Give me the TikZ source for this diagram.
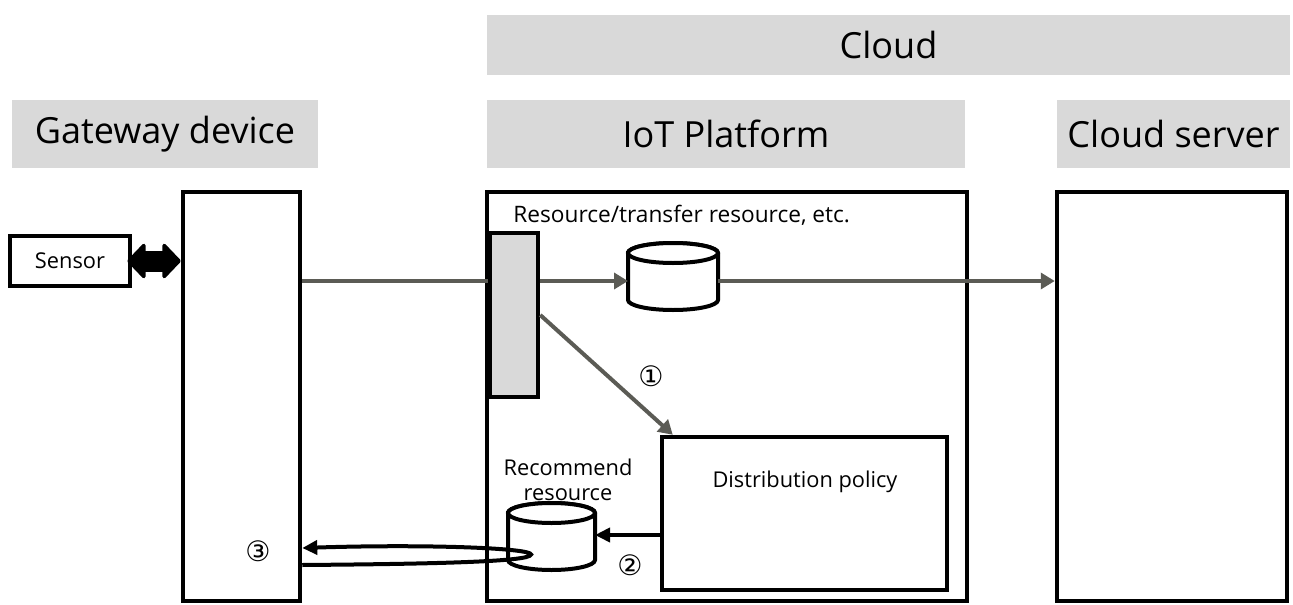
\documentclass[tikz,border=0pt]{standalone}
\usepackage{fontspec}
\setmainfont{Open Sans}
\newfontfamily\circfont{DejaVu Sans}
\usetikzlibrary{arrows.meta}
\usetikzlibrary{calc}
\definecolor{headgray}{HTML}{D9D9D9}
\definecolor{flowgray}{HTML}{5B5B55}
\tikzset{
    header/.style={fill=headgray, inner sep=0pt, font=\fontsize{20.5}{24}\selectfont},
    box/.style={draw=black, line width=0.09cm, fill=white, inner sep=0pt},
    store/.style={inner sep=0pt, outer sep=0pt},
    storeline/.style={draw=black, line width=0.08cm, fill=white},
    note/.style={inner sep=0pt, font=\fontsize{12.4}{14.2}\selectfont},
    stepnum/.style={inner sep=0pt, font=\circfont\fontsize{16}{16}\selectfont},
    flow/.style={draw=flowgray, line width=0.08cm},
    flowarrow/.style={flow, -{Triangle[length=0.28cm,width=0.32cm]}},
    push/.style={draw=black, line width=0.08cm, -{Triangle[length=0.3cm,width=0.28cm]}},
    fatarrow/.style={draw=black, line width=0.42cm,
        {Triangle[round,line width=2pt,length=0.38cm,width=0.78cm]}-{Triangle[round,line width=2pt,length=0.38cm,width=0.78cm]}},
}
% database drum round a named node: #1 node, #2 half width (cm)
\newcommand{\drawstore}[2]{%
    \draw[storeline] ([yshift=-0.2cm]#1.north west) -- ([yshift=0.2cm]#1.south west)
        arc[start angle=180, end angle=360, x radius=#2cm, y radius=0.2cm]
        -- ([yshift=-0.2cm]#1.north east)
        arc[start angle=0, end angle=180, x radius=#2cm, y radius=0.2cm] -- cycle;
    \draw[storeline] ([yshift=-0.2cm]#1.north) ellipse [x radius=#2cm, y radius=0.2cm];
}

\begin{document}
\begin{tikzpicture}
\useasboundingbox (0,0) rectangle (25.86,12.08);

		% headings
		\node[header, minimum width=16.06cm, minimum height=1.2cm] (cloud) at (17.77,11.18) {Cloud};
		\node[header, minimum width=6.12cm, minimum height=1.36cm] (gwhead) at (3.3,9.4) {Gateway device};
		\node[header, minimum width=9.56cm, minimum height=1.36cm] (iothead) at (14.52,9.4) {IoT Platform};
		\node[header, minimum width=4.66cm, minimum height=1.36cm] (cshead) at (23.47,9.4) {Cloud server};

		% columns
		\node[box, minimum width=2.34cm, minimum height=8.18cm] (gw) at (4.83,4.15) {};
		\node[box, minimum width=9.6cm, minimum height=8.18cm] (iot) at (14.54,4.15) {};
		\node[box, minimum width=4.6cm, minimum height=8.18cm] (cs) at (23.44,4.15) {};

		\node[box, minimum width=2.4cm, minimum height=1.0cm, font=\fontsize{12.4}{14}\selectfont] (sensor) at (1.4,6.86) {Sensor};
		\node[box, fill=headgray, minimum width=0.96cm, minimum height=3.28cm] (inlet) at (10.28,5.78) {};
		\node[note, anchor=west, font=\fontsize{12.9}{15}\selectfont] (restxt) at (10.26,7.78) {Resource/transfer resource, etc.};
		\node[store, minimum width=1.8cm, minimum height=1.34cm] (res) at (13.46,6.55) {};
		\drawstore{res}{0.9}

		\node[box, minimum width=5.7cm, minimum height=3.06cm] (policy) at (16.09,1.81) {};
		\node[note] (policytxt) at (16.1,2.44) {Distribution policy};
		\node[note, align=center] (rectxt) at (11.36,2.49) {Recommend\\resource};
		\node[store, minimum width=1.74cm, minimum height=1.34cm] (rec) at (11.03,1.35) {};
		\drawstore{rec}{0.87}

		\node[stepnum] (one) at (13.02,4.56) {①};
		\node[stepnum] (two) at (12.6,0.78) {②};
		\node[stepnum] (three) at (5.16,1.06) {③};

		\draw[fatarrow] ([xshift=-0.1cm]sensor.east) -- (gw.west |- sensor.east);
		\draw[flow] (gw.east |- 0,6.46) -- (inlet.west |- 0,6.46);
		\draw[flowarrow] (inlet.east |- 0,6.46) -- (res.west |- 0,6.46);
		\draw[flowarrow] (res.east |- 0,6.46) -- (cs.west |- 0,6.46);
		\draw[flowarrow] (inlet.east) -- ([xshift=0.26cm]policy.north west);
		\draw[push] (policy.west |- 0,1.38) -- (rec.east |- 0,1.38);
		%\draw[push] (rec.west) -- (gw.east);
		\draw[push] (gw.east |- 0,0.78) .. controls (8.5,0.8) and (10.62,0.84) .. (10.62,0.99)
			.. controls (10.62,1.12) and (8.5,1.2) .. (gw.east |- 0,1.12);
\end{tikzpicture}
\end{document}
